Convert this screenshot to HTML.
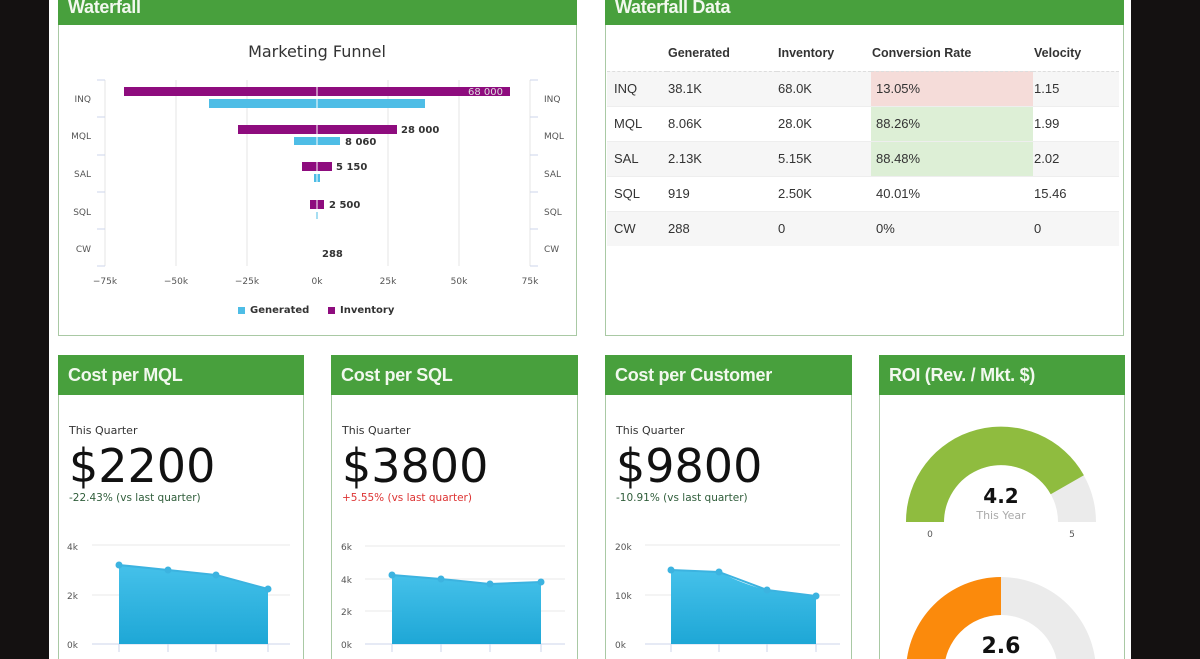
<!DOCTYPE html>
<html style="overflow:hidden"><head><meta charset="utf-8">
<style>
html,body{margin:0;width:1200px;height:659px;overflow:hidden;}
body{background:#141111;position:relative;font-family:"Liberation Sans",sans-serif;}
#page{position:absolute;left:49px;top:0;width:1082px;height:659px;background:#fff;}
.p{position:absolute;border:1px solid #a9c9a4;background:#fff;box-sizing:border-box;}
.h{position:absolute;left:-1px;right:-1px;top:-1px;background:#48a03d;color:#f2f8ee;font-size:18px;font-weight:bold;padding-left:10px;letter-spacing:-0.3px;}
svg text{font-family:"DejaVu Sans","Liberation Sans",sans-serif;}
table{border-collapse:collapse;font-size:13px;color:#333;}
.tq{position:absolute;left:10px;top:68px;font-size:11px;color:#333;font-family:"DejaVu Sans",sans-serif;}
.big{position:absolute;left:10px;top:83px;font-size:46px;color:#111;font-family:"DejaVu Sans",sans-serif;letter-spacing:0px;}
.chg{position:absolute;left:10px;top:136px;font-size:10.5px;font-family:"DejaVu Sans",sans-serif;}
#wrap{position:absolute;left:0;top:0;width:1200px;height:659px;overflow:hidden;}
</style></head><body><div id="wrap">
<div id="page"></div>

<div class="p" style="left:58px;top:-10px;width:519px;height:346px;">
 <div class="h" style="height:35px;line-height:30px;"><span style="position:relative;top:2px">Waterfall</span></div>
</div>
<svg width="1200" height="659" style="position:absolute;left:0;top:0">
 <text x="317" y="57" text-anchor="middle" font-size="16" fill="#333">Marketing Funnel</text>
 <g stroke="#e6e6e6" stroke-width="1">
  <line x1="105" y1="80" x2="105" y2="266"/><line x1="176" y1="80" x2="176" y2="266"/><line x1="247" y1="80" x2="247" y2="266"/>
  <line x1="388" y1="80" x2="388" y2="266"/><line x1="459" y1="80" x2="459" y2="266"/><line x1="530" y1="80" x2="530" y2="266"/>
 </g>
 <g stroke="#ccd6eb" stroke-width="1">
  <line x1="97" y1="80" x2="105" y2="80"/><line x1="97" y1="117" x2="105" y2="117"/><line x1="97" y1="155" x2="105" y2="155"/><line x1="97" y1="192" x2="105" y2="192"/><line x1="97" y1="229" x2="105" y2="229"/><line x1="97" y1="266" x2="105" y2="266"/>
  <line x1="530" y1="80" x2="538" y2="80"/><line x1="530" y1="117" x2="538" y2="117"/><line x1="530" y1="155" x2="538" y2="155"/><line x1="530" y1="192" x2="538" y2="192"/><line x1="530" y1="229" x2="538" y2="229"/><line x1="530" y1="266" x2="538" y2="266"/>
 </g>
 <g font-size="9" fill="#555" text-anchor="end">
  <text x="91" y="102">INQ</text><text x="91" y="139">MQL</text><text x="91" y="177">SAL</text><text x="91" y="215">SQL</text><text x="91" y="252">CW</text>
 </g>
 <g font-size="9" fill="#555">
  <text x="544" y="102">INQ</text><text x="544" y="139">MQL</text><text x="544" y="177">SAL</text><text x="544" y="215">SQL</text><text x="544" y="252">CW</text>
 </g>
 <g font-size="9" fill="#555" text-anchor="middle">
  <text x="105" y="284">−75k</text><text x="176" y="284">−50k</text><text x="247" y="284">−25k</text><text x="317" y="284">0k</text><text x="388" y="284">25k</text><text x="459" y="284">50k</text><text x="530" y="284">75k</text>
 </g>
 <g fill="#8e0c7e">
  <rect x="124" y="87" width="386" height="9"/><rect x="238" y="125" width="159" height="9"/><rect x="302" y="162" width="30" height="9"/><rect x="310" y="200" width="14" height="9"/>
 </g>
 <g fill="#4ebde6">
  <rect x="209" y="99" width="216" height="9"/><rect x="294" y="137" width="46" height="8"/><rect x="314" y="174" width="6" height="8"/><rect x="316" y="212" width="2" height="7"/>
 </g>
 <line x1="317" y1="80" x2="317" y2="266" stroke="#fff" stroke-width="1"/>
 <g font-size="10" fill="#333" font-weight="bold">
  <text x="468" y="95" fill="#ddd" font-weight="normal">68 000</text>
  <text x="401" y="133">28 000</text><text x="345" y="145">8 060</text><text x="336" y="170">5 150</text><text x="329" y="208">2 500</text><text x="322" y="257">288</text>
 </g>
 <rect x="238" y="307" width="7" height="7" fill="#4ebde6"/><text x="250" y="313" font-size="10" fill="#333" font-weight="bold">Generated</text>
 <rect x="328" y="307" width="7" height="7" fill="#8e0c7e"/><text x="340" y="313" font-size="10" fill="#333" font-weight="bold">Inventory</text>
</svg>

<div class="p" style="left:605px;top:-10px;width:519px;height:346px;">
 <div class="h" style="height:35px;line-height:30px;"><span style="position:relative;top:2px">Waterfall Data</span></div>
 <table style="position:absolute;left:1px;top:45px;width:512px;">
  <tr style="height:35px;font-weight:bold;font-size:12.5px;border-bottom:1px dashed #ddd"><td style="width:58px"></td><td style="width:108px">Generated</td><td style="width:92px">Inventory</td><td style="width:160px">Conversion Rate</td><td>Velocity</td></tr>
  <tr style="height:35px;background:#f6f6f6;border-bottom:1px solid #eee"><td style="padding-left:7px">INQ</td><td>38.1K</td><td>68.0K</td><td style="background:#f5dcd9;padding-left:5px">13.05%</td><td>1.15</td></tr>
  <tr style="height:35px;border-bottom:1px solid #eee"><td style="padding-left:7px">MQL</td><td>8.06K</td><td>28.0K</td><td style="background:#ddefd6;padding-left:5px">88.26%</td><td>1.99</td></tr>
  <tr style="height:35px;background:#f6f6f6;border-bottom:1px solid #eee"><td style="padding-left:7px">SAL</td><td>2.13K</td><td>5.15K</td><td style="background:#ddefd6;padding-left:5px">88.48%</td><td>2.02</td></tr>
  <tr style="height:35px;border-bottom:1px solid #eee"><td style="padding-left:7px">SQL</td><td>919</td><td>2.50K</td><td style="padding-left:5px">40.01%</td><td>15.46</td></tr>
  <tr style="height:35px;background:#f6f6f6"><td style="padding-left:7px">CW</td><td>288</td><td>0</td><td style="padding-left:5px">0%</td><td>0</td></tr>
 </table>
</div>

<div class="p" style="left:58px;top:355px;width:246px;height:320px;">
 <div class="h" style="height:40px;line-height:40px;">Cost per MQL</div>
 <div class="tq">This Quarter</div><div class="big">$2200</div><div class="chg" style="color:#2f5d3a">-22.43% (vs last quarter)</div>
</div>
<div class="p" style="left:331px;top:355px;width:247px;height:320px;">
 <div class="h" style="height:40px;line-height:40px;">Cost per SQL</div>
 <div class="tq">This Quarter</div><div class="big">$3800</div><div class="chg" style="color:#d33">+5.55% (vs last quarter)</div>
</div>
<div class="p" style="left:605px;top:355px;width:247px;height:320px;">
 <div class="h" style="height:40px;line-height:40px;">Cost per Customer</div>
 <div class="tq">This Quarter</div><div class="big">$9800</div><div class="chg" style="color:#2f5d3a">-10.91% (vs last quarter)</div>
</div>
<div class="p" style="left:879px;top:355px;width:246px;height:320px;">
 <div class="h" style="height:40px;line-height:40px;">ROI (Rev. / Mkt. $)</div>
</div>

<svg width="1200" height="659" style="position:absolute;left:0;top:0">
 <defs><linearGradient id="g" x1="0" y1="0" x2="0" y2="1"><stop offset="0" stop-color="#45c1ea"/><stop offset="1" stop-color="#1ea7d6"/></linearGradient></defs>
 <g stroke="#e8e8e8"><line x1="92" y1="545" x2="290" y2="545"/><line x1="92" y1="595" x2="290" y2="595"/><line x1="92" y1="644" x2="290" y2="644" stroke="#ccd6eb"/>
 <line x1="365" y1="546" x2="565" y2="546"/><line x1="365" y1="579" x2="565" y2="579"/><line x1="365" y1="611" x2="565" y2="611"/><line x1="365" y1="644" x2="565" y2="644" stroke="#ccd6eb"/>
 <line x1="645" y1="545" x2="840" y2="545"/><line x1="645" y1="595" x2="840" y2="595"/><line x1="645" y1="644" x2="840" y2="644" stroke="#ccd6eb"/></g>
 <g font-size="9" fill="#555">
  <text x="67" y="550">4k</text><text x="67" y="599">2k</text><text x="67" y="648">0k</text>
  <text x="341" y="550">6k</text><text x="341" y="583">4k</text><text x="341" y="615">2k</text><text x="341" y="648">0k</text>
  <text x="615" y="550">20k</text><text x="615" y="599">10k</text><text x="615" y="648">0k</text>
 </g>
 <path d="M119,565 L168,570 L216,575 L268,589 L268,644 L119,644Z" fill="url(#g)"/>
 <polyline points="119,565 168,570 216,575 268,589" fill="none" stroke="#3cb3e0" stroke-width="2"/>
 <g fill="#3cb3e0"><circle cx="119" cy="565" r="3.5"/><circle cx="168" cy="570" r="3.5"/><circle cx="216" cy="575" r="3.5"/><circle cx="268" cy="589" r="3.5"/></g>
 <path d="M392,575 L441,579 L490,584 L541,582 L541,644 L392,644Z" fill="url(#g)"/>
 <polyline points="392,575 441,579 490,584 541,582" fill="none" stroke="#3cb3e0" stroke-width="2"/>
 <g fill="#3cb3e0"><circle cx="392" cy="575" r="3.5"/><circle cx="441" cy="579" r="3.5"/><circle cx="490" cy="584" r="3.5"/><circle cx="541" cy="582" r="3.5"/></g>
 <path d="M671,570 L719,572 Q745,585 767,590 L816,596 L816,644 L671,644Z" fill="url(#g)"/>
 <polyline points="671,570 719,572 767,590 816,596" fill="none" stroke="#3cb3e0" stroke-width="2"/>
 <g fill="#3cb3e0"><circle cx="671" cy="570" r="3.5"/><circle cx="719" cy="572" r="3.5"/><circle cx="767" cy="590" r="3.5"/><circle cx="816" cy="596" r="3.5"/></g>
 <g stroke="#ccd6eb"><line x1="119" y1="644" x2="119" y2="652"/><line x1="168" y1="644" x2="168" y2="652"/><line x1="216" y1="644" x2="216" y2="652"/><line x1="268" y1="644" x2="268" y2="652"/>
 <line x1="392" y1="644" x2="392" y2="652"/><line x1="441" y1="644" x2="441" y2="652"/><line x1="490" y1="644" x2="490" y2="652"/><line x1="541" y1="644" x2="541" y2="652"/>
 <line x1="671" y1="644" x2="671" y2="652"/><line x1="719" y1="644" x2="719" y2="652"/><line x1="767" y1="644" x2="767" y2="652"/><line x1="816" y1="644" x2="816" y2="652"/></g>

 <path d="M906,522 A95,95 0 0 1 1096,522 L1058,522 A57,57 0 0 0 944,522Z" fill="#ebebeb"/>
 <path d="M906,522 A95,95 0 0 1 1083.9,475.2 L1050.7,494.2 A57,57 0 0 0 944,522Z" fill="#8fbc3f"/>
 <text x="1001" y="503" text-anchor="middle" font-size="20" font-weight="bold" fill="#111">4.2</text>
 <text x="1001" y="519" text-anchor="middle" font-size="11" fill="#aaa">This Year</text>
 <text x="930" y="537" text-anchor="middle" font-size="9" fill="#555">0</text>
 <text x="1072" y="537" text-anchor="middle" font-size="9" fill="#555">5</text>
 <path d="M906,672 A95,95 0 0 1 1096,672 L1058,672 A57,57 0 0 0 944,672Z" fill="#ebebeb"/>
 <path d="M906,672 A95,95 0 0 1 1001,577 L1001,615 A57,57 0 0 0 944,672Z" fill="#fb8a0c"/>
 <text x="1001" y="653" text-anchor="middle" font-size="22" font-weight="bold" fill="#111">2.6</text>
</svg>
</div></body></html>
